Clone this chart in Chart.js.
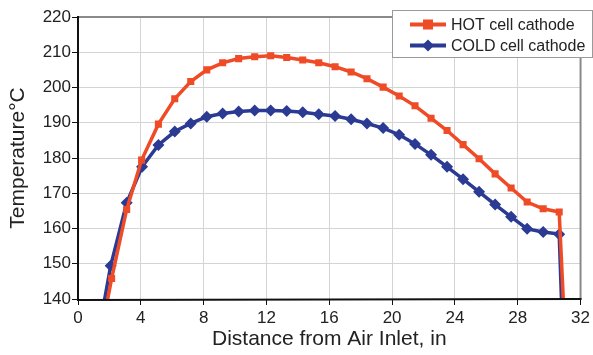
<!DOCTYPE html>
<html><head><meta charset="utf-8">
<script src="https://cdn.jsdelivr.net/npm/chart.js@4"></script>
<style>html,body{margin:0;padding:0;background:#fff}#wrap{width:593px;height:355px;position:relative}</style>
</head><body><div id="wrap"><canvas id="c" width="593" height="355"></canvas></div>
<script>
const xPositions = [0.17, 2.14, 3.1, 4.05, 5.12, 6.16, 7.18, 8.2, 9.21, 10.23, 11.25, 12.27, 13.29, 14.31, 15.33, 16.37, 17.39, 18.4, 19.43, 20.45, 21.46, 22.48, 23.5, 24.52, 25.54, 26.56, 27.58, 28.6, 29.62, 30.64, 31.32];
const hotValues = [100, 145.8, 165.4, 179.4, 189.6, 196.8, 201.7, 205.0, 207.0, 208.2, 208.7, 209.0, 208.5, 207.8, 207.0, 205.9, 204.4, 202.5, 200.1, 197.6, 194.8, 191.3, 187.8, 183.8, 179.8, 175.5, 171.5, 167.5, 165.6, 164.7, 100];
const coldX = [0.08, 2.08, 3.1, 4.08, 5.12, 6.16, 7.18, 8.2, 9.21, 10.23, 11.25, 12.27, 13.29, 14.31, 15.33, 16.37, 17.39, 18.4, 19.43, 20.45, 21.46, 22.48, 23.5, 24.52, 25.54, 26.56, 27.58, 28.6, 29.62, 30.64, 31.1];
const coldValues = [100, 149.4, 167.3, 177.5, 183.7, 187.5, 189.8, 191.7, 192.6, 193.2, 193.5, 193.5, 193.3, 193.0, 192.4, 191.9, 191.0, 189.8, 188.5, 186.6, 184.0, 180.9, 177.5, 174.0, 170.4, 166.8, 163.3, 159.9, 159.0, 158.4, 100];
const seriesNames = ["HOT cell cathode", "COLD cell cathode"];
const xTicks = [0, 4, 8, 12, 16, 20, 24, 28, 32];
const yTicks = [140, 150, 160, 170, 180, 190, 200, 210, 220];
const xTitle = "Distance from Air Inlet, in";
const yTitle = "Temperature°C";

const HOT = "#EE4B26", COLD = "#2B3A93";
const FONT = "'Liberation Sans', Arial, sans-serif";

const frame = {
  id: 'frame',
  afterDatasetsDraw(chart) {
    const {ctx, chartArea: a} = chart;
    ctx.save();
    ctx.strokeStyle = '#8a8a8a'; ctx.lineWidth = 2;
    ctx.beginPath();
    ctx.moveTo(a.left, a.top); ctx.lineTo(a.right, a.top); ctx.lineTo(a.right, a.bottom);
    ctx.stroke();
    ctx.strokeStyle = '#111';
    ctx.beginPath();
    ctx.moveTo(a.left, a.top - 1); ctx.lineTo(a.left, a.bottom + 1); ctx.lineTo(a.right + 1, a.bottom);
    ctx.stroke();
    // legend
    const bx = 392.5, by = 10.5, bw = 200, bh = 47;
    ctx.fillStyle = '#fff';
    ctx.fillRect(bx, by, bw, bh);
    ctx.strokeStyle = '#9a9a9a'; ctx.lineWidth = 1;
    ctx.strokeRect(bx, by, bw, bh);
    const items = [[seriesNames[0], HOT, 'rect'], [seriesNames[1], COLD, 'rectRot']];
    items.forEach((it, i) => {
      const y = by + 14 + i * 21;
      ctx.strokeStyle = it[1]; ctx.lineWidth = 4;
      ctx.beginPath(); ctx.moveTo(410, y); ctx.lineTo(446, y); ctx.stroke();
      ctx.fillStyle = it[1];
      if (it[2] === 'rect') ctx.fillRect(423, y - 5, 10, 10);
      else { ctx.beginPath(); ctx.moveTo(428, y - 6); ctx.lineTo(434, y); ctx.lineTo(428, y + 6); ctx.lineTo(422, y); ctx.closePath(); ctx.fill(); }
      ctx.fillStyle = '#222'; ctx.font = '16px ' + FONT; ctx.textBaseline = 'middle'; ctx.textAlign = 'left';
      ctx.fillText(it[0], 451, y + 1);
    });
    ctx.restore();
  }
};

new Chart(document.getElementById('c'), {
  type: 'line',
  data: {
    datasets: [
      { label: seriesNames[0], data: xPositions.map((x, i) => ({x, y: hotValues[i]})), borderColor: HOT, backgroundColor: HOT, borderWidth: 3.5, pointStyle: 'rect', pointRadius: 5, pointHoverRadius: 5, pointBorderWidth: 0, tension: 0 },
      { label: seriesNames[1], data: coldX.map((x, i) => ({x, y: coldValues[i]})), borderColor: COLD, backgroundColor: COLD, borderWidth: 3.5, pointStyle: 'rectRot', pointRadius: 6, pointHoverRadius: 6, pointBorderWidth: 0, tension: 0 }
    ]
  },
  options: {
    responsive: false, animation: false, devicePixelRatio: 1,
    layout: { padding: { top: 17, right: 12, left: 0, bottom: 0 } },
    plugins: { legend: { display: false }, tooltip: { enabled: false } },
    scales: {
      x: {
        type: 'linear', min: 0, max: 32,
        afterBuildTicks: s => { s.ticks = xTicks.map(v => ({value: v})); },
        afterFit: s => { s.height = 56; },
        grid: { color: '#d4d4d4', borderDash: [3, 2], tickColor: '#111', tickLength: 6, tickBorderDash: [], drawTicks: true },
        border: { display: false },
        ticks: { color: '#222', font: { family: FONT, size: 17 }, padding: 3, maxRotation: 0 },
        title: { display: true, text: xTitle, color: '#222', font: { family: FONT, size: 21 }, padding: { top: 0, bottom: 3 } }
      },
      y: {
        min: 140, max: 220,
        afterBuildTicks: s => { s.ticks = yTicks.map(v => ({value: v})); },
        afterFit: s => { s.width = 78; },
        grid: { color: '#d4d4d4', borderDash: [3, 2], tickColor: '#111', tickLength: 6, tickBorderDash: [], drawTicks: true },
        border: { display: false },
        ticks: { color: '#222', font: { family: FONT, size: 17 }, padding: 1 },
        title: { display: true, text: yTitle, color: '#222', font: { family: FONT, size: 21 }, padding: { top: 6, bottom: 0 } }
      }
    }
  },
  plugins: [frame]
});
</script></body></html>
